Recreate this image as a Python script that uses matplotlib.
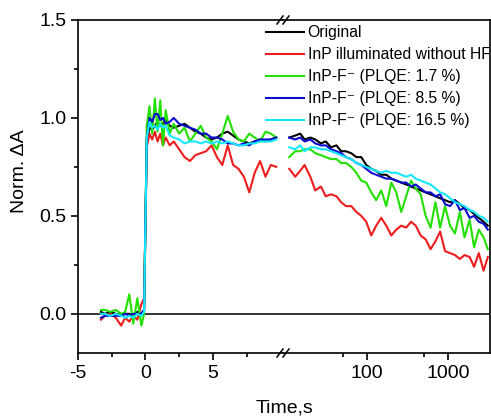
"""
plot.py - Norm. dA vs Time, broken x axis (linear | log)
"""

import matplotlib
matplotlib.use("Agg")
import matplotlib.pyplot as plt
from matplotlib.lines import Line2D
from matplotlib.ticker import FixedLocator, FuncFormatter, FormatStrFormatter, MultipleLocator, NullFormatter

plt.rcParams["font.family"] = ["Liberation Sans", "DejaVu Sans"]
plt.rcParams["axes.unicode_minus"] = False

# --- podaci: linearni deo (s) ---
t_lin = [-3.3, -3.0, -2.6, -2.2, -1.8, -1.5, -1.2, -0.9, -0.6, -0.3, -0.1,
         0.1, 0.3, 0.5, 0.7, 0.9, 1.1, 1.3, 1.5, 1.8, 2.1, 2.5, 2.9, 3.3, 3.7,
         4.1, 4.5, 4.9, 5.3, 5.7, 6.1, 6.5, 6.9, 7.3, 7.7, 8.1, 8.5, 8.9, 9.3, 9.7]

orig_lin = [0.01, 0.0, 0.01, 0.0, -0.01, 0.0, 0.0, -0.01, 0.01, 0.0, 0.02,
            0.88, 0.95, 0.94, 0.96, 0.98, 0.96, 0.97, 0.99, 0.96, 0.95, 0.96, 0.97, 0.95, 0.93,
            0.92, 0.90, 0.89, 0.90, 0.92, 0.93, 0.91, 0.89, 0.88, 0.87, 0.88, 0.89, 0.88, 0.89, 0.90]
red_lin = [-0.03, -0.01, 0.0, -0.02, -0.06, -0.02, -0.04, -0.01, -0.03, 0.05, 0.08,
           0.85, 0.92, 0.89, 0.93, 0.88, 0.92, 0.86, 0.90, 0.86, 0.88, 0.84, 0.80, 0.78, 0.81,
           0.82, 0.83, 0.86, 0.80, 0.76, 0.86, 0.76, 0.74, 0.70, 0.62, 0.72, 0.78, 0.70, 0.76, 0.75]
g17_lin = [0.02, 0.02, 0.01, 0.02, 0.0, 0.01, 0.10, -0.05, 0.08, -0.06, 0.0,
           0.96, 1.06, 0.92, 1.10, 0.93, 1.09, 0.86, 1.04, 0.92, 0.97, 0.92, 0.95, 0.88, 0.92,
           0.96, 0.90, 0.88, 0.84, 0.92, 1.01, 0.93, 0.89, 0.88, 0.92, 0.90, 0.88, 0.93, 0.92, 0.90]
b85_lin = [-0.02, -0.01, -0.01, -0.01, -0.01, 0.0, -0.01, 0.0, 0.0, 0.0, 0.02,
           0.90, 1.00, 0.98, 1.02, 1.02, 0.99, 1.00, 0.97, 0.98, 1.00, 0.97, 0.96, 0.95, 0.94,
           0.92, 0.92, 0.90, 0.90, 0.89, 0.87, 0.87, 0.86, 0.87, 0.86, 0.88, 0.89, 0.89, 0.89, 0.90]
c165_lin = [0.0, 0.0, -0.01, 0.0, -0.01, -0.02, -0.01, -0.02, 0.0, -0.01, 0.01,
            0.90, 0.98, 0.95, 0.96, 0.94, 0.97, 0.95, 0.96, 0.91, 0.90, 0.89, 0.87, 0.88, 0.88,
            0.87, 0.88, 0.87, 0.88, 0.87, 0.88, 0.87, 0.86, 0.86, 0.87, 0.87, 0.88, 0.88, 0.88, 0.89]

# --- podaci: logaritamski deo (s) ---
t_log = [11, 13, 15, 17, 20, 23, 27, 31, 36, 42, 48, 55, 64, 74, 85, 98, 113, 130,
         150, 173, 200, 230, 265, 305, 350, 400, 460, 530, 610, 700, 800, 920, 1060,
         1220, 1400, 1600, 1850, 2100, 2400, 2750, 3100]

orig_log = [0.90, 0.91, 0.92, 0.89, 0.90, 0.89, 0.87, 0.88, 0.85, 0.86, 0.83, 0.83, 0.82, 0.80,
            0.80, 0.76, 0.74, 0.73, 0.71, 0.71, 0.69, 0.68, 0.67, 0.66, 0.65, 0.64, 0.63, 0.62,
            0.61, 0.60, 0.59, 0.58, 0.57, 0.58, 0.56, 0.54, 0.53, 0.51, 0.49, 0.47, 0.45]
red_log = [0.74, 0.70, 0.73, 0.76, 0.70, 0.63, 0.65, 0.60, 0.61, 0.60, 0.57, 0.55, 0.55, 0.52,
           0.50, 0.47, 0.40, 0.45, 0.49, 0.45, 0.40, 0.43, 0.45, 0.44, 0.47, 0.45, 0.40, 0.38,
           0.33, 0.37, 0.42, 0.32, 0.31, 0.30, 0.28, 0.30, 0.29, 0.24, 0.31, 0.22, 0.29]
g17_log = [0.80, 0.83, 0.83, 0.84, 0.84, 0.82, 0.81, 0.80, 0.79, 0.79, 0.77, 0.77, 0.75, 0.72,
           0.68, 0.67, 0.62, 0.58, 0.63, 0.55, 0.67, 0.62, 0.52, 0.60, 0.68, 0.64, 0.61, 0.50,
           0.44, 0.57, 0.44, 0.55, 0.45, 0.41, 0.52, 0.39, 0.48, 0.34, 0.43, 0.39, 0.33]
b85_log = [0.90, 0.89, 0.90, 0.88, 0.89, 0.87, 0.86, 0.86, 0.84, 0.83, 0.82, 0.80, 0.79, 0.77,
           0.76, 0.74, 0.72, 0.71, 0.70, 0.69, 0.69, 0.68, 0.67, 0.67, 0.65, 0.66, 0.64, 0.62,
           0.62, 0.60, 0.61, 0.56, 0.55, 0.58, 0.53, 0.54, 0.49, 0.50, 0.47, 0.46, 0.43]
c165_log = [0.85, 0.84, 0.86, 0.83, 0.85, 0.85, 0.84, 0.84, 0.83, 0.82, 0.81, 0.80, 0.79, 0.77,
            0.76, 0.75, 0.74, 0.73, 0.72, 0.73, 0.72, 0.72, 0.71, 0.70, 0.71, 0.69, 0.68, 0.67,
            0.66, 0.64, 0.62, 0.61, 0.59, 0.57, 0.56, 0.55, 0.53, 0.52, 0.50, 0.49, 0.47]

serije = [
    ("Original", "black", orig_lin, orig_log),
    ("InP illuminated without HF", "#ee1c1c", red_lin, red_log),
    ("InP-F\u207b (PLQE: 1.7 %)", "#22e000", g17_lin, g17_log),
    ("InP-F\u207b (PLQE: 8.5 %)", "#0a0ad0", b85_lin, b85_log),
    ("InP-F\u207b (PLQE: 16.5 %)", "#14e8ff", c165_lin, c165_log),
]

W, H = 491, 420
L, R, B, T = 78 / W, 490 / W, 67 / H, 400 / H
SPLIT = 283 / W

fig = plt.figure(figsize=(W / 100, H / 100), dpi=100)
ax1 = fig.add_axes([L, B, SPLIT - L, T - B])
ax2 = fig.add_axes([SPLIT, B, R - SPLIT, T - B], sharey=ax1)

handles = []
for ime, boja, y_lin, y_log in serije:
    h, = ax1.plot(t_lin, y_lin, color=boja, lw=1.5, label=ime)
    ax2.plot(t_log, y_log, color=boja, lw=1.5)
    handles.append(h)

for ax in (ax1, ax2):
    ax.axhline(0, color="black", lw=1.1, zorder=0)
    for s in ax.spines.values():
        s.set_linewidth(1.2)
    ax.tick_params(which="both", direction="out", width=1.2, labelsize=14)
    ax.tick_params(which="major", length=5)
    ax.tick_params(which="minor", length=3)

ax1.spines["right"].set_visible(False)
ax2.spines["left"].set_visible(False)
ax2.tick_params(axis="y", which="both", left=False, labelleft=False)

ax1.set_xlim(-5, 10.2)
ax1.xaxis.set_major_locator(FixedLocator([-5, 0, 5]))
ax1.xaxis.set_minor_locator(FixedLocator([-2.5, 2.5, 7.5]))

ax2.set_xscale("log")
ax2.set_xlim(9.2, 3300)
ax2.xaxis.set_major_locator(FixedLocator([100, 1000]))
ax2.xaxis.set_minor_locator(FixedLocator([50, 500]))
ax2.xaxis.set_major_formatter(FuncFormatter(lambda v, p: f"{v:g}"))
ax2.xaxis.set_minor_formatter(NullFormatter())

ax1.set_ylim(-0.2, 1.5)
ax1.yaxis.set_major_locator(FixedLocator([0.0, 0.5, 1.0, 1.5]))
ax1.yaxis.set_minor_locator(MultipleLocator(0.25))
ax1.yaxis.set_major_formatter(FormatStrFormatter("%.1f"))

# oznake prekida ose "//"
for yb in (B, T):
    for dx in (-3, 3):
        x0 = SPLIT + dx / W
        fig.add_artist(Line2D([x0 - 3 / W, x0 + 3 / W], [yb - 4 / H, yb + 4 / H],
                              color="black", lw=1.1, transform=fig.transFigure))

fig.text(284 / W, 1 - 408 / H, "Time,s", ha="center", va="center", fontsize=14)
fig.text(20 / W, 1 - 171 / H, "Norm. ΔA", ha="center", va="center",
         rotation=90, fontsize=14)

fig.legend(handles=handles, loc="upper left", bbox_to_anchor=(266 / W, 1 - 25 / H),
           bbox_transform=fig.transFigure, frameon=False, fontsize=11.3,
           handlelength=2.45, handletextpad=0.2, labelspacing=0.45,
           borderpad=0, borderaxespad=0)

fig.savefig("out.png", dpi=100, facecolor="white")
